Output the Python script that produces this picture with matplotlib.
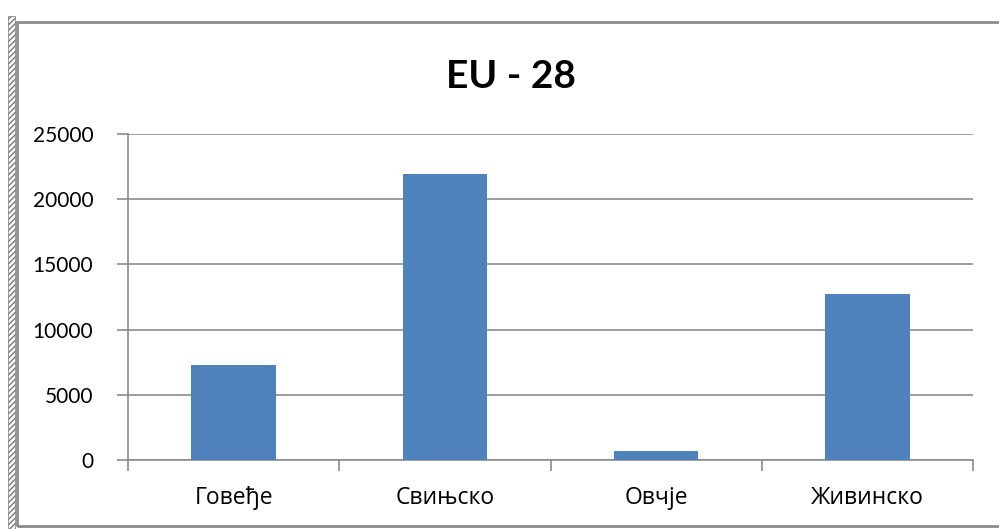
import numpy as np
import matplotlib
matplotlib.use("Agg")
import matplotlib.pyplot as plt
from matplotlib.patches import Rectangle

categories = ['Говеђе', 'Свињско', 'Овчје', 'Живинско']
values = [7250, 21950, 690, 12750]
yticks = [0, 5000, 10000, 15000, 20000, 25000]

plt.rcParams['font.family'] = ['Lato', 'DejaVu Sans']
W, H = 999, 529
fig = plt.figure(figsize=(W / 100, H / 100), dpi=100)

# outer chart frame and hatched left strip
fig.patches.append(Rectangle((17 / W, 1 - 526 / H), 1.2, (526 - 22) / H, transform=fig.transFigure,
                             fill=False, edgecolor='#8c8c8c', lw=2))
fig.patches.append(Rectangle((8 / W, 0), 7 / W, 1 - 16 / H, transform=fig.transFigure,
                             fill=False, edgecolor='#777777', hatch='//////', lw=0.5))

ax = fig.add_axes([128 / W, 1 - 460 / H, (973 - 128) / W, (460 - 134) / H])
x = np.arange(len(categories))
ax.bar(x, values, width=0.4, color='#4F81BD', zorder=3)
ax.set_xlim(-0.5, len(categories) - 0.5)
ax.set_ylim(0, 25000)
ax.set_yticks(yticks)
ax.set_yticklabels([str(v) for v in yticks], fontsize=15)
ax.yaxis.grid(True, color='#8c8c8c', lw=1.2, zorder=0)
ax.set_xticks(x)
ax.set_xticklabels(categories, fontsize=16.5, family=['Open Sans', 'DejaVu Sans'])
ax.set_xticks(np.arange(len(categories) + 1) - 0.5, minor=True)
ax.tick_params(axis='x', which='major', length=0, pad=19)
ax.tick_params(axis='x', which='minor', length=8, color='#8c8c8c', width=1.2)
ax.tick_params(axis='y', length=8, color='#8c8c8c', width=1.2, pad=17)
for s in ['top', 'right']:
    ax.spines[s].set_visible(False)
for s in ['left', 'bottom']:
    ax.spines[s].set_color('#8c8c8c')
    ax.spines[s].set_linewidth(1.2)

fig.text(511 / W, 1 - 76 / H, 'EU - 28', ha='center', va='center', fontsize=28, fontweight='bold')

plt.savefig('out.png', dpi=100)
